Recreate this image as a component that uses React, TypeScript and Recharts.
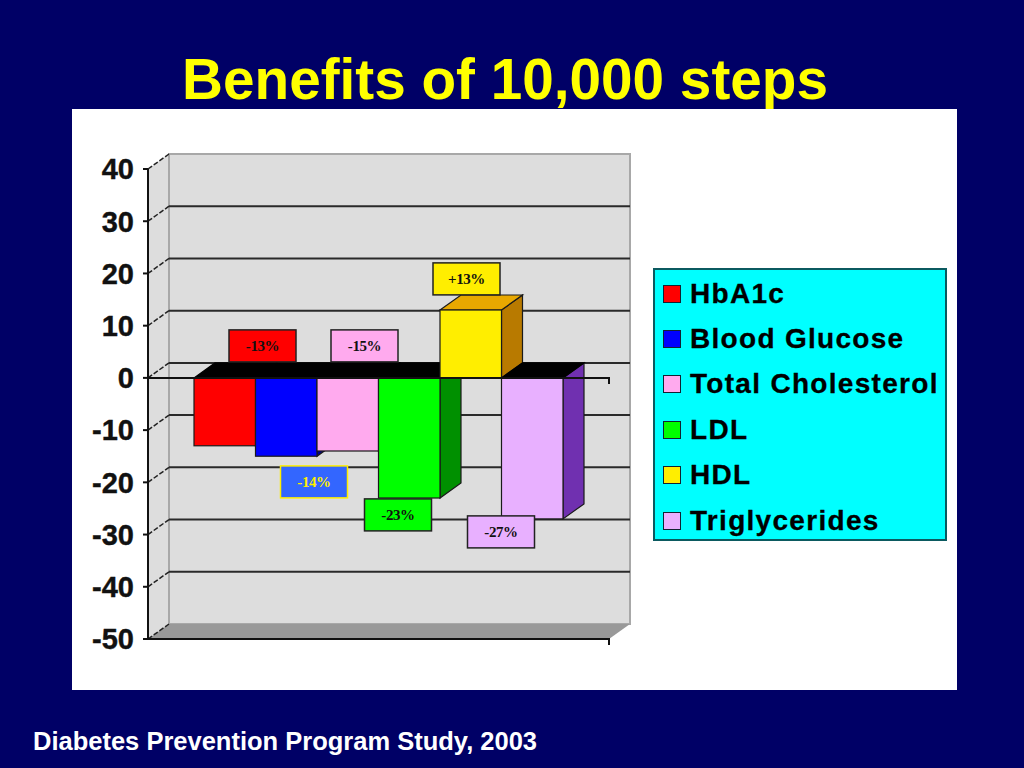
import React from 'react'
import {
  BarChart,
  Bar,
  XAxis,
  YAxis,
  CartesianGrid,
  Legend,
  LabelList,
  ReferenceArea,
  ReferenceLine,
} from 'recharts'

const seriesNames = ['HbA1c', 'Blood Glucose', 'Total Cholesterol', 'LDL', 'HDL', 'Triglycerides']
const seriesValues = [-13, -15, -14, -23, 13, -27]
const labelTexts = ['-13%', '-14%', '-15%', '-23%', '+13%', '-27%']
const yTicks = [40, 30, 20, 10, 0, -10, -20, -30, -40, -50]

const frontColors = ['#ff0000', '#0000ff', '#ffaaee', '#00ff00', '#ffee00', '#e8b0ff']
const sideColors = ['#a00000', '#000090', '#a06090', '#009000', '#b87a00', '#7030b0']
const topColors = ['#000', '#000', '#000', '#000', '#e8a800', '#000']
const labelFills = ['#ff0000', '#3366ff', '#ffaaee', '#00ff00', '#ffee00', '#e8b0ff']
const labelBorders = ['#222', '#ffee00', '#222', '#222', '#222', '#222']
const labelInk = ['#111', '#ffee00', '#111', '#111', '#111', '#111']
// label box offset from the bar's left edge and from the zero line
const labelDx = [35, 25, 14, -14, -7, -34]
const labelDy = [-48, 88, -48, 121, -115, 138]

const chartRow: Record<string, number | string> = { group: 'Change' }
seriesNames.forEach((name, i) => {
  chartRow[name] = seriesValues[i]
})
const chartData = [chartRow]

// 3D depth of the old style chart
const DX = 21
const DY = 15

function Walls({ x, y, width, height }: any) {
  const bottom = y + height
  const right = x + width
  return (
    <g>
      <polygon
        points={`${x},${y} ${x + DX},${y - DY} ${x + DX},${bottom - DY} ${x},${bottom}`}
        fill="#dddddd"
      />
      <rect x={x + DX} y={y - DY} width={width} height={height} fill="#dddddd" stroke="#a8a8a8" strokeWidth={2} />
      <polygon
        points={`${x},${bottom} ${x + DX},${bottom - DY} ${right + DX},${bottom - DY} ${right},${bottom}`}
        fill="#999999"
      />
    </g>
  )
}

function GridLine({ x1, x2, y1, index }: any) {
  const edge = index === 0 || index === yTicks.length - 1
  return (
    <g>
      <line x1={x1} y1={y1} x2={x1 + DX} y2={y1 - DY} stroke="#222" strokeWidth={1.5} strokeDasharray="5 2" />
      {!edge && <line x1={x1 + DX} y1={y1 - DY} x2={x2 + DX} y2={y1 - DY} stroke="#2a2a2a" strokeWidth={2} />}
    </g>
  )
}

function EndTickLine({ x1, x2, y1, y2 }: any) {
  return (
    <path d={`M${x1},${y1} L${x2},${y2} L${x2},${y2 + 6}`} fill="none" stroke="#111" strokeWidth={2} />
  )
}

function Bar3D({ x, y, width, height, seriesIndex }: any) {
  const top = Math.min(y, y + height)
  const h = Math.abs(height)
  const right = x + width
  const topFill = topColors[seriesIndex]
  return (
    <g stroke="#1a1a1a" strokeWidth={1.2}>
      <polygon
        points={`${right},${top} ${right + DX},${top - DY} ${right + DX},${top + h - DY} ${right},${top + h}`}
        fill={sideColors[seriesIndex]}
      />
      <polygon
        points={`${x},${top} ${x + DX},${top - DY} ${right + DX},${top - DY} ${right},${top}`}
        fill={topFill}
        stroke={topFill === '#000' ? '#000' : '#1a1a1a'}
      />
      <rect x={x} y={top} width={width} height={h} fill={frontColors[seriesIndex]} />
    </g>
  )
}

function BoxLabel({ x, y, height, seriesIndex }: any) {
  const zeroY = seriesValues[seriesIndex] < 0 ? Math.min(y, y + height) : Math.max(y, y + height)
  const left = x + labelDx[seriesIndex]
  const top = zeroY + labelDy[seriesIndex]
  return (
    <g>
      <rect
        x={left}
        y={top}
        width={67}
        height={32}
        fill={labelFills[seriesIndex]}
        stroke={labelBorders[seriesIndex]}
        strokeWidth={1.5}
      />
      <text
        x={left + 33.5}
        y={top + 21}
        textAnchor="middle"
        fontFamily="'Liberation Serif', serif"
        fontWeight="bold"
        fontSize={15}
        letterSpacing={-0.4}
        fill={labelInk[seriesIndex]}
      >
        {labelTexts[seriesIndex]}
      </text>
    </g>
  )
}

function LegendBox({ payload }: any) {
  return (
    <div
      style={{
        width: 294,
        height: 273,
        boxSizing: 'border-box',
        background: '#00ffff',
        border: '2px solid #0b5a60',
        paddingTop: 1,
      }}
    >
      {(payload || []).map((entry: any) => (
        <div
          key={entry.value}
          style={{
            height: 45.4,
            display: 'flex',
            alignItems: 'center',
            fontFamily: "'Liberation Sans', Arial, sans-serif",
            fontWeight: 'bold',
            fontSize: 28,
            letterSpacing: 1.3,
            color: '#000',
            WebkitTextStroke: '0.3px #000',
          }}
        >
          <span
            style={{
              width: 16,
              height: 16,
              marginLeft: 8,
              marginRight: 9,
              background: entry.color,
              border: '1px solid #123',
              flex: 'none',
            }}
          />
          {entry.value}
        </div>
      ))}
    </div>
  )
}

export default function App() {
  return (
    <div
      style={{
        position: 'absolute',
        left: 0,
        top: 0,
        width: 1024,
        height: 768,
        background: '#000066',
        overflow: 'hidden',
        fontFamily: "'Liberation Sans', Arial, sans-serif",
      }}
    >
      <div
        style={{
          position: 'absolute',
          left: 0,
          width: 1010,
          top: 47,
          textAlign: 'center',
          color: '#ffff00',
          fontWeight: 'bold',
          fontSize: 56.7,
          lineHeight: '66px',
        }}
      >
        Benefits of 10,000 steps
      </div>
      <div style={{ position: 'absolute', left: 72, top: 109, width: 885, height: 581, background: '#fff' }} />
      <div
        style={{
          position: 'absolute',
          left: 33,
          top: 727,
          color: '#fff',
          fontWeight: 'bold',
          fontSize: 25.5,
          lineHeight: '28px',
        }}
      >
        Diabetes Prevention Program Study, 2003
      </div>
      <div style={{ position: 'absolute', left: 0, top: 0 }}>
        <BarChart
          width={1024}
          height={768}
          data={chartData}
          margin={{ top: 169, right: 415, bottom: 129, left: 72 }}
          barSize={61.5}
          barGap={0}
        >
          <ReferenceArea y1={-50} y2={40} shape={<Walls />} zIndex={-200} />
          <CartesianGrid vertical={false} horizontal={(p: any) => <GridLine key={p.key} {...p} />} />
          <XAxis dataKey="group" height={0} tick={false} tickLine={false} axisLine={{ stroke: '#111', strokeWidth: 2 }} />
          <YAxis
            width={76}
            domain={[-50, 40]}
            ticks={yTicks}
            interval={0}
            allowDataOverflow
            tickSize={5}
            tickMargin={9}
            tickLine={{ stroke: '#111', strokeWidth: 2 }}
            axisLine={{ stroke: '#111', strokeWidth: 2 }}
            tick={{
              fill: '#111',
              stroke: '#111',
              strokeWidth: 0.4,
              fontFamily: "'Liberation Sans', Arial, sans-serif",
              fontWeight: 'bold',
              fontSize: 29,
            }}
          />
          <ReferenceLine y={0} shape={<EndTickLine />} />
          <ReferenceLine y={-50} shape={<EndTickLine />} />
          {seriesNames.map((name, i) => (
            <Bar
              key={name}
              dataKey={name}
              name={name}
              fill={frontColors[i]}
              isAnimationActive={false}
              shape={(p: any) => <Bar3D {...p} seriesIndex={i} />}
            >
              <LabelList dataKey={name} content={(p: any) => <BoxLabel {...p} seriesIndex={i} />} />
            </Bar>
          ))}
          <Legend
            layout="vertical"
            align="center"
            verticalAlign="middle"
            itemSorter={null}
            wrapperStyle={{ left: 653, top: 268, width: 294, height: 273 }}
            content={(p: any) => <LegendBox {...p} />}
          />
        </BarChart>
      </div>
    </div>
  )
}
